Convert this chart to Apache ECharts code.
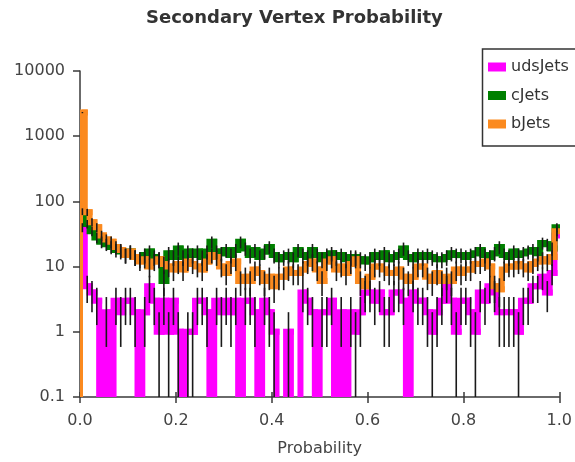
<!DOCTYPE html>
<html>
<head>
<meta charset="utf-8">
<script src="https://cdn.jsdelivr.net/npm/echarts@6/dist/echarts.min.js"></script>
<style>
  html, body { margin: 0; padding: 0; background: #fff; }
  #chart { width: 575px; height: 462px; }
</style>
</head>
<body>
<div id="chart"></div>
<script>
// Histogram of the secondary-vertex probability, 100 bins of width 0.01 on [0, 1]
const binWidth = 0.01;
const xTicks = [0, 0.2, 0.4, 0.6, 0.8, 1.0];
const yTicks = [0.1, 1, 10, 100, 1000, 10000];
const seriesNames = ['udsJets', 'cJets', 'bJets'];

const udsJets = [
  40, 5, 4, 3, 0, 2, 0, 3, 2, 3,
  3, 2, 0, 2, 5, 3, 1, 3, 1, 3,
  1, 0, 1, 1, 3, 3, 2, 0, 3, 2,
  3, 2, 3, 0, 3, 3, 2, 0, 3, 2,
  1, 0, 0, 1, 0, 0, 4, 3, 2, 0,
  2, 2, 3, 0, 2, 0, 2, 1, 2, 4,
  4, 3, 4, 2, 2, 4, 4, 3, 0, 4,
  3, 3, 2, 1, 2, 3, 5, 3, 1, 3,
  3, 2, 1, 4, 3, 5, 4, 2, 2, 2,
  2, 1, 3, 3, 5, 5, 7, 4, 8, 30
];

const cJets = [
  70, 45, 35, 28, 24, 22, 20, 18, 17, 15,
  17, 14, 13, 15, 17, 14, 13, 6, 16, 14,
  19, 14, 17, 15, 17, 14, 17, 24, 17, 16,
  18, 15, 18, 24, 19, 15, 18, 14, 17, 20,
  15, 13, 14, 15, 13, 18, 15, 14, 18, 15,
  13, 15, 16, 14, 15, 13, 14, 14, 13, 12,
  13, 15, 14, 16, 13, 14, 15, 19, 14, 13,
  15, 14, 15, 14, 13, 13, 14, 16, 15, 15,
  14, 15, 16, 18, 15, 14, 16, 20, 15, 14,
  17, 15, 16, 17, 18, 16, 23, 22, 19, 40
];

const bJets = [
  2300, 68, 48, 40, 30, 26, 24, 20, 18, 15,
  17, 14, 12, 13, 10, 12, 13, 11, 10, 9,
  11, 9, 12, 11, 10, 9, 12, 15, 14, 10,
  8, 11, 12, 6, 7, 6, 9, 8, 6, 7,
  5, 7, 7, 9, 8, 8, 9, 11, 12, 9,
  6, 12, 13, 9, 10, 8, 11, 13, 6, 5,
  7, 10, 10, 9, 8, 8, 9, 7, 6, 7,
  10, 10, 7, 6, 8, 6, 7, 6, 9, 8,
  9, 9, 11, 11, 12, 10, 5, 4.5, 9, 10,
  10, 11, 10, 9, 11, 12, 13, 12, 14, 35
];

const colors = { udsJets: '#ff00ff', cJets: '#008000', bJets: '#fb8a1f' };
const counts = { udsJets, cJets, bJets };

const yMin = 0.1, yMax = 10000;
const EMPTY = 1e-3;   // empty bins fall below the plotted range and are clipped away
const STROKE = 6;     // width of the histogram outline

// One item per bin: [left edge, right edge, previous bin value, bin value]
function binItems(vals) {
  return vals.map((v, i) => [
    +(i * binWidth).toFixed(2),
    +((i + 1) * binWidth).toFixed(2),
    i === 0 ? EMPTY : (vals[i - 1] > 0 ? vals[i - 1] : EMPTY),
    v > 0 ? v : EMPTY
  ]);
}

// Poisson error bar (±sqrt(N)) at each bin centre
function errorBars(vals) {
  const out = [];
  vals.forEach((v, i) => {
    if (v <= 0) return;
    const e = Math.sqrt(v);
    out.push([(i + 0.5) * binWidth, Math.max(v - e, yMin), Math.min(v + e, yMax)]);
  });
  return out;
}

// Vertical edge from the previous bin's level, then the bin's top
function stepRenderer(color) {
  return function (params, api) {
    const a = api.coord([api.value(0), api.value(2)]);
    const b = api.coord([api.value(0), api.value(3)]);
    const c = api.coord([api.value(1), api.value(3)]);
    return {
      type: 'polyline',
      shape: { points: [a, b, c] },
      style: { stroke: color, fill: null, lineWidth: STROKE, lineCap: 'square', lineJoin: 'miter' }
    };
  };
}

function renderErr(params, api) {
  const x = api.value(0);
  const p1 = api.coord([x, api.value(1)]);
  const p2 = api.coord([x, api.value(2)]);
  return {
    type: 'line',
    shape: { x1: p1[0], y1: p1[1], x2: p2[0], y2: p2[1] },
    style: { stroke: '#1a1a1a', lineWidth: 1.6 }
  };
}

const series = [];
seriesNames.forEach((name, k) => {
  series.push({
    name,
    type: 'custom',
    renderItem: stepRenderer(colors[name]),
    data: binItems(counts[name]),
    encode: { x: [0, 1], y: [2, 3] },
    clip: true,
    z: 2 + k,
    silent: true,
    itemStyle: { color: colors[name] }
  });
});
seriesNames.forEach((name) => {
  series.push({
    name: name + ' errors',
    type: 'custom',
    renderItem: renderErr,
    data: errorBars(counts[name]),
    encode: { x: 0, y: [1, 2] },
    clip: true,
    z: 10,
    silent: true
  });
});

const axisColor = '#3a3a3a';
const labelFont = { fontFamily: 'DejaVu Sans', fontSize: 16, color: '#444' };

const chart = echarts.init(document.getElementById('chart'), null, { renderer: 'canvas' });
chart.setOption({
  animation: false,
  backgroundColor: '#fff',
  graphic: [{
    type: 'text',
    left: 296 - 150,
    top: 9,
    style: {
      text: 'Secondary Vertex Probability',
      fontFamily: 'DejaVu Sans',
      fontWeight: 'bold',
      fontSize: 18,
      fill: '#333',
      width: 300,
      align: 'center'
    },
    z: 100
  }, {
    // legend frame, running past the right edge of the canvas
    type: 'rect',
    shape: { x: 482.5, y: 49, width: 120, height: 97 },
    style: { fill: '#fff', stroke: '#333', lineWidth: 1.5 },
    z: 0
  }],
  legend: {
    data: seriesNames.map(n => ({ name: n, itemStyle: { color: colors[n] } })),
    orient: 'vertical',
    left: 482,
    top: 49,
    icon: 'rect',
    itemWidth: 18,
    itemHeight: 9,
    itemGap: 12.5,
    padding: [10, 10, 14, 6],
    borderWidth: 0,
    textStyle: { fontFamily: 'DejaVu Sans', fontSize: 16, color: '#333' },
    selectedMode: false,
    z: 20
  },
  grid: { left: 80, right: 14, top: 71, bottom: 65, containLabel: false },
  xAxis: [{
    type: 'value',
    min: 0,
    max: 1,
    interval: 0.2,
    name: 'Probability',
    nameLocation: 'middle',
    nameGap: 44,
    nameTextStyle: { fontFamily: 'DejaVu Sans', fontSize: 16, color: '#444' },
    axisLine: { show: true, lineStyle: { color: axisColor, width: 1.5 } },
    axisTick: { show: true, length: 6, lineStyle: { color: axisColor, width: 1.5 } },
    axisLabel: Object.assign({ margin: 16, formatter: v => xTicks.includes(+v.toFixed(1)) ? v.toFixed(1) : '' }, labelFont),
    splitLine: { show: false }
  }, {
    type: 'value',
    position: 'bottom',
    min: 0,
    max: 1,
    interval: 0.2,
    axisLine: { show: false },
    axisTick: { show: true, inside: true, length: 5, lineStyle: { color: axisColor, width: 1.5 } },
    axisLabel: { show: false },
    splitLine: { show: false }
  }],
  yAxis: {
    type: 'log',
    logBase: 10,
    min: yMin,
    max: yMax,
    axisLine: { show: true, lineStyle: { color: axisColor, width: 1.5 } },
    axisTick: { show: true, length: 7, lineStyle: { color: axisColor, width: 1.5 } },
    minorTick: { show: false },
    axisLabel: Object.assign({
      margin: 15,
      padding: [6, 0, 0, 0],
      formatter: v => {
        const t = yTicks.find(d => Math.abs(d - v) / d < 1e-6);
        return t === undefined ? '' : String(t);
      }
    }, labelFont),
    splitLine: { show: false }
  },
  series
});
</script>
</body>
</html>
